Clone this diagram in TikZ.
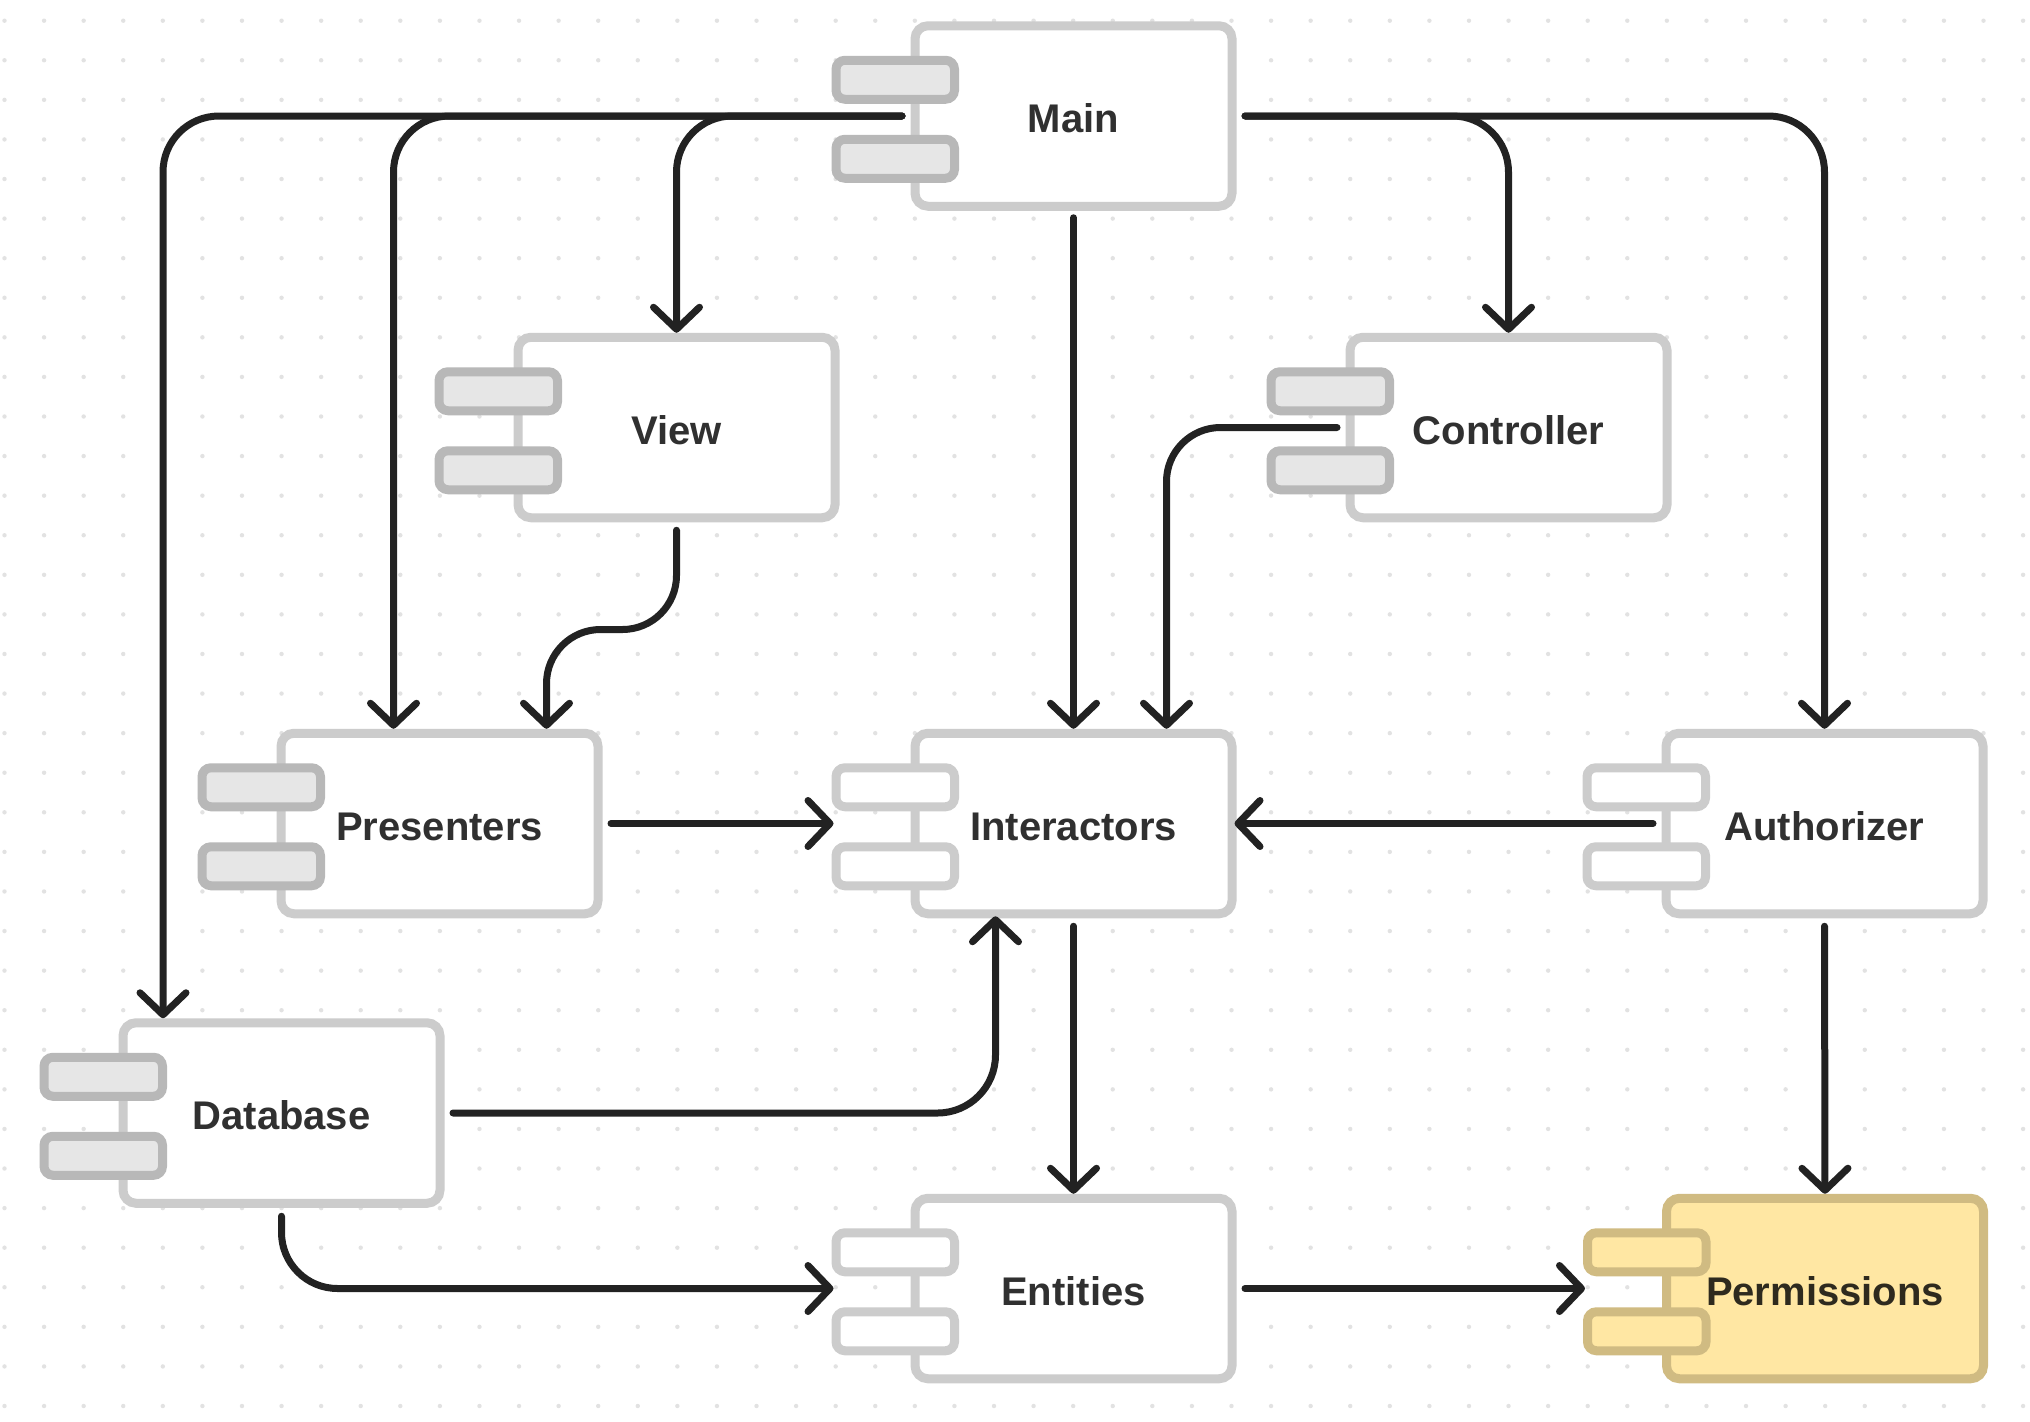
\documentclass[tikz,border=0pt]{standalone}
\usepackage{fontspec}
\setmainfont{Liberation Sans}
\usetikzlibrary{arrows.meta,calc}
\definecolor{boxline}{HTML}{CCCCCC}
\definecolor{tabline}{HTML}{B8B8B8}
\definecolor{tabfill}{HTML}{E6E6E6}
\definecolor{connc}{HTML}{222222}
\definecolor{txt}{HTML}{303030}
\definecolor{dotc}{HTML}{E2E2E2}
\definecolor{permfill}{HTML}{FFE7A3}
\definecolor{permline}{HTML}{D0BB82}
\definecolor{permtxt}{HTML}{2E2A1E}
\newcommand\comp[6]{%
  \node[#5] (#1) at (#2,#3) {#4};
  \node[#6] (#1t1) at ($(#1.center)+(-178.25,-36.25)$) {};
  \node[#6] (#1t2) at ($(#1.center)+(-178.25,42.75)$) {};
}
\begin{document}
\begin{tikzpicture}[x=1pt,y=-1pt,
  boxbase/.style={rectangle, minimum width=317pt, minimum height=180.5pt, inner sep=0pt,
    rounded corners=13pt, line width=9pt, text height=33pt, text depth=0pt,
    font=\fontsize{40}{47}\selectfont\bfseries},
  plainbox/.style={boxbase, draw=boxline, fill=white, text=txt},
  permbox/.style={boxbase, draw=permline, fill=permfill, text=permtxt},
  tabbase/.style={rectangle, minimum width=118.5pt, minimum height=39pt, inner sep=0pt,
    rounded corners=9pt, line width=9pt},
  darktab/.style={tabbase, draw=tabline, fill=tabfill},
  lighttab/.style={tabbase, draw=boxline, fill=white},
  permtab/.style={tabbase, draw=permline, fill=permfill},
  conn/.style={draw=connc, line width=7pt, line cap=round, line join=round,
    rounded corners=56pt, -{Straight Barb[length=22pt,width=46pt,round]}}
]
\useasboundingbox (0,0) rectangle (2030,1422);
\fill[white] (0,0) rectangle (2030,1422);
\foreach \i in {0,...,51}{
  \foreach \j in {0,...,35}{
    \fill[dotc] ({4.5+39.58*\i},{20.7+39.58*\j}) circle (2.2pt);
  }
}
% components
\comp{main}{1073.5}{116}{Main}{plainbox}{darktab}
\comp{view}{676.5}{427.5}{View}{plainbox}{darktab}
\comp{controller}{1508.5}{427.5}{Controller}{plainbox}{darktab}
\comp{presenters}{439.5}{823.5}{Presenters}{plainbox}{darktab}
\comp{interactors}{1073.5}{823.5}{Interactors}{plainbox}{lighttab}
\comp{authorizer}{1824.5}{823.5}{Authorizer}{plainbox}{lighttab}
\comp{database}{281.5}{1113}{Database}{plainbox}{darktab}
\comp{entities}{1073.5}{1288.5}{Entities}{plainbox}{lighttab}
\comp{permissions}{1825}{1288.5}{Permissions}{permbox}{permtab}
% connectors
\draw[conn] ([xshift=-8.5pt]main.west) -| ([xshift=-118.5pt]database.north);
\draw[conn] ([xshift=-8.5pt]main.west) -| ([xshift=-46pt]presenters.north);
\draw[conn] ([xshift=-8.5pt]main.west) -| (view.north);
\draw[conn] ([xshift=8.5pt]main.east) -| (controller.north);
\draw[conn] ([xshift=8.5pt]main.east) -| (authorizer.north);
\draw[conn] ([yshift=-7pt]main.south) -- (interactors.north);
\coordinate (vout) at ([yshift=-8pt]view.south);
\coordinate (pin) at ([xshift=107pt]presenters.north);
\coordinate (vpmid) at ($(vout)!0.5!(pin)$);
\draw[conn, rounded corners=54pt] (vout) -- (vout |- vpmid) -- (pin |- vpmid) -- (pin);
\draw[conn, rounded corners=54pt] ([xshift=-8.5pt]controller.west) -| ([xshift=93pt]interactors.north);
\draw[conn] ([xshift=8.5pt]presenters.east) -- ($(interactors.center -| interactorst1.west)+(2,0)$);
\draw[conn] ([xshift=-8.5pt]authorizer.west) -- ([xshift=-2pt]interactors.east);
\draw[conn, rounded corners=58pt] ([xshift=8.5pt]database.east) -| ([xshift=-78pt,yshift=2pt]interactors.south);
\draw[conn] ([yshift=-8pt]interactors.south) -- (entities.north);
\draw[conn] ([yshift=-8.5pt]database.south) |- ($(entities.center -| entitiest1.west)+(2,0)$);
\draw[conn] ([xshift=8.5pt]entities.east) -- ($(permissions.center -| permissionst1.west)+(2,0)$);
\draw[conn] ([yshift=-8pt]authorizer.south) -- (permissions.north);
\end{tikzpicture}
\end{document}
